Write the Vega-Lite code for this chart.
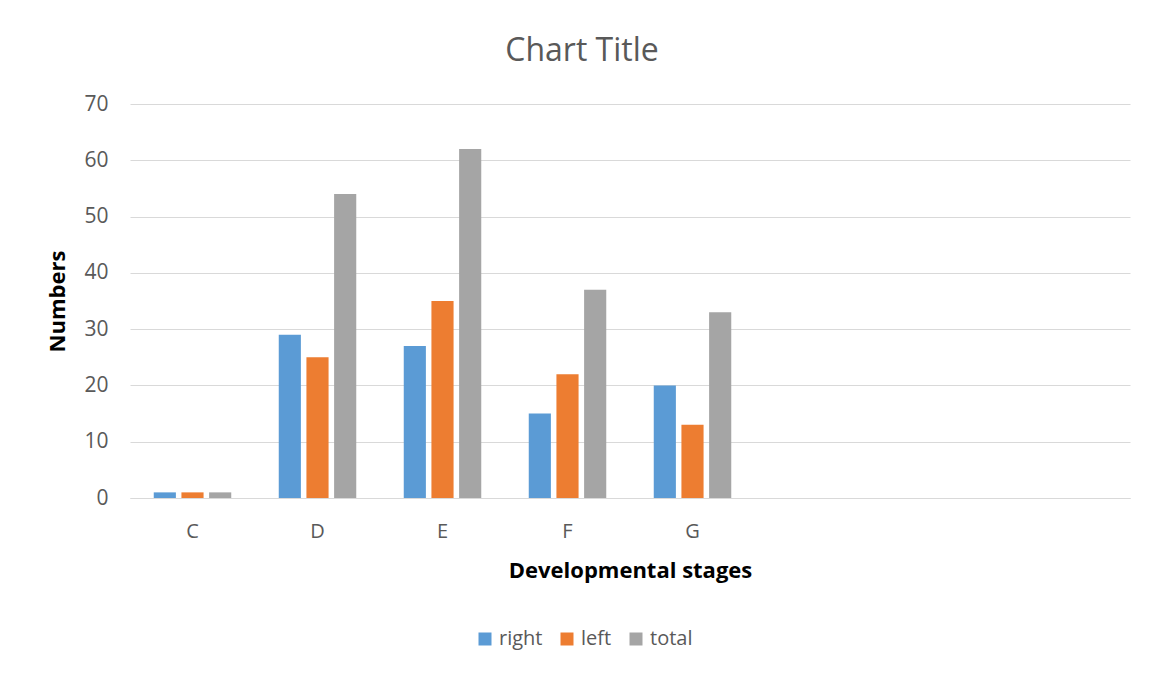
{
  "$schema": "https://vega.github.io/schema/vega-lite/v6.json",
  "autosize": "none",
  "width": 1000,
  "height": 394,
  "padding": {"left": 130, "top": 104, "right": 28, "bottom": 179},
  "background": "white",
  "title": {
    "text": "Chart Title",
    "fontSize": 32,
    "font": "Open Sans",
    "fontWeight": "normal",
    "color": "#595959",
    "anchor": "middle",
    "dx": -48,
    "offset": 25
  },
  "data": {
    "values": [
      {"stage": "C", "side": "right", "value": 1},
      {"stage": "C", "side": "left", "value": 1},
      {"stage": "C", "side": "total", "value": 1},
      {"stage": "D", "side": "right", "value": 29},
      {"stage": "D", "side": "left", "value": 25},
      {"stage": "D", "side": "total", "value": 54},
      {"stage": "E", "side": "right", "value": 27},
      {"stage": "E", "side": "left", "value": 35},
      {"stage": "E", "side": "total", "value": 62},
      {"stage": "F", "side": "right", "value": 15},
      {"stage": "F", "side": "left", "value": 22},
      {"stage": "F", "side": "total", "value": 37},
      {"stage": "G", "side": "right", "value": 20},
      {"stage": "G", "side": "left", "value": 13},
      {"stage": "G", "side": "total", "value": 33}
    ]
  },
  "mark": {"type": "bar"},
  "encoding": {
    "x": {
      "field": "stage",
      "type": "nominal",
      "scale": {"domain": ["C", "D", "E", "F", "G", " ", "  ", "   "], "paddingInner": 0.38, "paddingOuter": 0.19},
      "axis": {
        "title": "Developmental stages",
        "labelAngle": 0,
        "domain": true,
        "domainColor": "#d9d9d9",
        "ticks": false,
        "labelPadding": 23,
        "labelFontSize": 20,
        "labelColor": "#595959",
        "labelFont": "Open Sans",
        "titleFont": "Open Sans",
        "titleFontSize": 22,
        "titleFontWeight": "bold",
        "titleColor": "#000000",
        "titlePadding": 19
      }
    },
    "xOffset": {
      "field": "side",
      "type": "nominal",
      "sort": ["right", "left", "total"],
      "scale": {"paddingInner": 0.2}
    },
    "y": {
      "field": "value",
      "type": "quantitative",
      "scale": {"domain": [0, 70]},
      "axis": {
        "title": "Numbers",
        "values": [0, 10, 20, 30, 40, 50, 60, 70],
        "domain": false,
        "ticks": false,
        "gridColor": "#d9d9d9",
        "labelPadding": 22,
        "labelFontSize": 21,
        "labelColor": "#595959",
        "labelFont": "Open Sans",
        "titleFont": "Open Sans",
        "titleFontSize": 22,
        "titleFontWeight": "bold",
        "titleColor": "#000000",
        "titlePadding": 14
      }
    },
    "color": {
      "field": "side",
      "type": "nominal",
      "sort": ["right", "left", "total"],
      "scale": {"domain": ["right", "left", "total"], "range": ["#5B9BD5", "#ED7D31", "#A5A5A5"]},
      "legend": {
        "title": null,
        "orient": "none",
        "direction": "horizontal",
        "legendX": 345,
        "legendY": 525,
        "symbolType": "square",
        "symbolSize": 169,
        "symbolStrokeWidth": 0,
        "symbolOpacity": 1,
        "labelFontSize": 20,
        "labelColor": "#595959",
        "labelFont": "Open Sans",
        "labelOffset": 4,
        "columnPadding": 14
      }
    }
  },
  "config": {
    "view": {"stroke": null}
  }
}
